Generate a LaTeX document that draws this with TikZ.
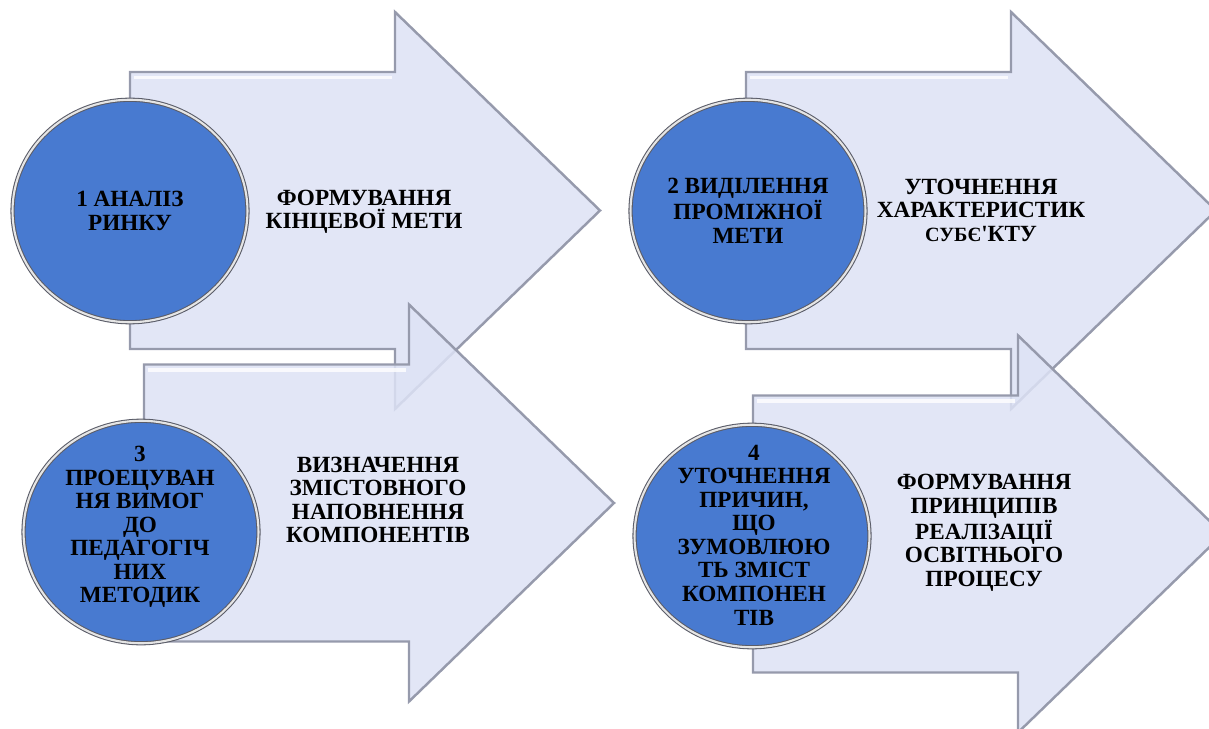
\documentclass[tikz,border=0pt]{standalone}
\usepackage{fontspec}
\setmainfont{Liberation Serif}
\newfontfamily\diagfont{Liberation Serif}[BoldFont={Liberation Serif Bold}]
\usetikzlibrary{shapes.geometric}

\definecolor{arrowfill}{RGB}{221,226,245}
\definecolor{arrowedge}{RGB}{150,154,172}
\definecolor{ballfill}{RGB}{72,122,208}
\definecolor{balledge}{RGB}{90,92,104}

\begin{document}
\begin{tikzpicture}[x=0.02cm,y=-0.02cm]

\tikzstyle{bigarrow} = [
	fill=arrowfill, draw=arrowedge, line width=1.4pt,
	line join=miter, fill opacity=.85 ];
\tikzstyle{ball} = [
	ellipse, fill=ballfill, draw=balledge, line width=.6pt,
	double=gray!20, double distance=1.2pt,
	minimum width=4.7cm, minimum height=4.45cm, inner sep=0pt ];
\tikzstyle{txt} = [
	align=center, inner sep=0pt,
	font=\diagfont\bfseries\fontsize{13.2}{13.4}\selectfont ];
% left end of the body, middle height
\def\arrowat#1#2{
	\draw[bigarrow] (#1,#2-138.5) -- ++(265,0) -- ++(0,-60)
		-- ++(205,198.5) -- ++(-205,198.5) -- ++(0,-60)
		-- (#1,#2+138.5) -- cycle;
	\draw[white, line width=2pt, opacity=.8]
		(#1+4,#2-133) -- (#1+262,#2-133);
}
\clip (0,0) rectangle (1209,729);

\arrowat{130}{210.5}
\node[ball] (stage1) at (130,211) {};
\node[txt] (name1) at (stage1) {1 АНАЛІЗ\\РИНКУ};
\node[txt] (goal1) at (364,212) {ФОРМУВАННЯ\\КІНЦЕВОЇ МЕТИ};

\arrowat{746}{210.5}
\node[ball] (stage2) at (748,211) {};
\node[txt] (name2) at (stage2) {2 ВИДІЛЕННЯ\\ПРОМІЖНОЇ\\МЕТИ};
\node[txt] (goal2) at (981,210) {УТОЧНЕННЯ\\ХАРАКТЕРИСТИК\\{\fontsize{11.5}{13.4}\selectfont СУБЄ}'КТУ};

\arrowat{144}{503}
\node[ball] (stage3) at (141,532) {};
\node[txt] (name3) at (140,527) {3\\ПРОЕЦУВАН\\НЯ ВИМОГ\\ДО\\ПЕДАГОГІЧ\\НИХ\\МЕТОДИК};
\node[txt] (goal3) at (378,500) {ВИЗНАЧЕННЯ\\ЗМІСТОВНОГО\\НАПОВНЕННЯ\\КОМПОНЕНТІВ};

\arrowat{753}{534}
\node[ball] (stage4) at (752,536) {};
\node[txt] (name4) at (754,535) {4\\УТОЧНЕННЯ\\ПРИЧИН,\\ЩО\\ЗУМОВЛЮЮ\\ТЬ ЗМІСТ\\КОМПОНЕН\\ТІВ};
\node[txt] (goal4) at (984,533) {ФОРМУВАННЯ\\ПРИНЦИПІВ\\РЕАЛІЗАЦІЇ\\ОСВІТНЬОГО\\ПРОЦЕСУ};

\end{tikzpicture}
\end{document}
